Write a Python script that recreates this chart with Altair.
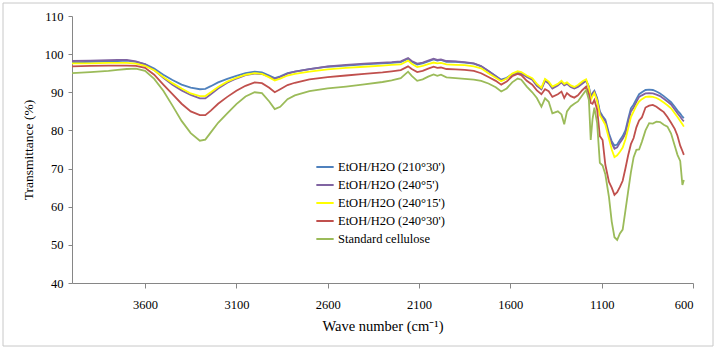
import altair as alt
import pandas as pd

wavenumber = [4000, 3900, 3800, 3750, 3700, 3650, 3600, 3550, 3500, 3450, 3400, 3350, 3300, 3270, 3240,
              3200, 3150, 3100, 3050, 3000, 2960, 2920, 2890, 2860, 2820, 2780, 2700, 2600, 2500, 2400,
              2300, 2250, 2200, 2160, 2140, 2110, 2080, 2050, 2020, 2000, 1980, 1950, 1900, 1850, 1800,
              1760, 1720, 1680, 1650, 1620, 1590, 1560, 1540, 1510, 1480, 1455, 1430, 1410, 1390, 1370,
              1340, 1320, 1305, 1290, 1270, 1250, 1230, 1205, 1185, 1170, 1160, 1150, 1140, 1125, 1110,
              1095, 1080, 1060, 1045, 1030, 1015, 1000, 985, 970, 955, 940, 925, 910, 895, 880,
              860, 840, 820, 800, 780, 760, 740, 720, 700, 685, 670, 658, 650]

blue = [97.8, 98.0, 98.1, 98.2, 98.3, 98.0, 97.4, 96.2, 94.6, 93.2, 92.0, 91.2, 90.8, 90.9, 91.6,
        92.6, 93.5, 94.3, 95.0, 95.4, 95.2, 94.4, 93.7, 94.2, 95.0, 95.4, 96.1, 96.7, 97.0, 97.3,
        97.6, 97.7, 97.9, 98.8, 98.0, 97.3, 97.6, 98.1, 98.6, 98.3, 98.5, 98.0, 98.0, 97.8, 97.5,
        96.8, 95.6, 94.3, 93.3, 93.8, 94.8, 95.2, 95.0, 94.2, 93.5, 92.0, 91.0, 93.3, 92.6, 91.3,
        92.0, 92.8, 92.0, 92.4, 91.6, 91.2, 91.6, 92.5, 93.1, 91.5, 88.8, 89.8, 90.4, 88.5, 85.0,
        83.8, 82.8, 79.2, 77.2, 76.0, 76.3, 77.5, 78.5, 80.0, 83.0, 85.8, 86.8, 88.2, 89.5, 90.0,
        90.6, 90.7, 90.6, 90.2, 89.7, 89.0, 88.2, 87.4, 86.2, 85.2, 84.4, 83.6, 83.2]

purple = [98.2, 98.3, 98.4, 98.5, 98.5, 98.1, 97.3, 95.8, 93.8, 92.0, 90.5, 89.3, 88.4, 88.4, 89.5,
          91.0, 92.5, 93.6, 94.5, 94.9, 94.8, 94.1, 93.5, 94.0, 94.9, 95.4, 96.1, 96.8, 97.2, 97.5,
          97.8, 97.9, 98.1, 99.0, 98.2, 97.5, 97.8, 98.3, 98.8, 98.5, 98.6, 98.2, 98.1, 97.9, 97.6,
          96.9, 95.6, 94.2, 93.1, 93.6, 94.6, 95.0, 94.9, 94.0, 93.3, 91.7, 90.8, 93.0, 92.3, 91.0,
          91.8, 92.6, 91.8, 92.2, 91.4, 91.0, 91.4, 92.3, 93.0, 91.3, 88.6, 89.6, 90.2, 88.2, 84.6,
          83.4, 82.4, 78.6, 76.6, 75.2, 75.6, 76.8, 77.8, 79.2, 82.2, 85.0, 86.0, 87.5, 88.8, 89.2,
          89.7, 89.8, 89.7, 89.4, 89.0, 88.3, 87.6, 86.8, 85.5, 84.5, 83.6, 82.8, 82.4]

yellow = [97.6, 97.6, 97.7, 97.7, 97.7, 97.5, 96.9, 95.8, 94.0, 92.4, 91.0, 89.7, 89.0, 89.0, 90.0,
          91.4, 92.8, 93.8, 94.6, 95.0, 94.8, 93.9, 93.1, 93.6, 94.4, 94.8, 95.4, 96.0, 96.4, 96.7,
          97.0, 97.2, 97.3, 98.3, 97.5, 96.6, 96.9, 97.4, 97.8, 97.6, 97.7, 97.3, 97.2, 97.1, 96.8,
          96.3, 95.0, 93.8, 92.9, 93.6, 94.9, 95.5, 95.3, 94.4, 93.7, 92.2, 91.2, 93.5, 92.8, 91.5,
          92.2, 93.0, 92.2, 92.6, 91.8, 91.4, 91.9, 92.9, 93.4, 91.2, 88.0, 89.0, 89.8, 87.8, 84.0,
          82.8, 81.5, 77.8, 75.0, 73.0, 73.5, 74.4, 75.5, 77.6, 80.5, 83.5, 85.0, 86.5, 87.6, 88.2,
          88.8, 88.9, 88.8, 88.5, 88.0, 87.3, 86.6, 85.8, 84.5, 83.5, 82.5, 81.6, 81.0]

red = [96.8, 96.9, 97.0, 97.0, 97.0, 96.9, 96.4, 94.6, 92.0, 89.5, 87.0, 85.0, 84.0, 84.0, 85.2,
       87.0, 88.8, 90.4, 91.7, 92.6, 92.4, 91.2, 90.0, 90.8, 91.9, 92.5, 93.4, 94.0, 94.4, 94.8,
       95.2, 95.5, 95.8, 96.8, 96.1, 95.3, 95.6, 96.2, 96.7, 96.4, 96.5, 96.1, 96.0, 95.9, 95.6,
       95.0, 94.0, 93.0, 92.0, 92.8, 94.2, 94.8, 94.5, 93.0, 92.0, 90.5, 89.5, 90.8, 90.3, 88.8,
       89.5, 90.2, 88.5, 89.8, 89.0, 88.6, 89.2, 90.6, 91.5, 89.5, 87.2, 87.0, 88.0, 85.5, 78.5,
       77.5, 71.0, 66.5, 65.0, 63.1, 63.8, 65.2, 66.8, 70.0, 73.5, 76.4, 78.0, 80.8, 82.6, 83.4,
       86.0, 86.5, 86.7, 86.2, 85.5, 84.8, 83.5, 82.0, 80.4, 78.6, 76.0, 74.6, 73.6]

green = [95.0, 95.3, 95.6, 95.9, 96.1, 96.2, 95.6, 93.5, 90.4, 86.5, 82.5, 79.3, 77.3, 77.6, 79.5,
         82.0, 84.5, 86.9, 88.9, 90.0, 89.8, 87.6, 85.6, 86.2, 88.2, 89.2, 90.3, 91.0, 91.5, 92.1,
         92.7, 93.1, 93.7, 95.4, 94.3, 93.0, 93.4, 94.1, 94.7, 94.3, 94.6, 93.9, 93.7, 93.5, 93.3,
         93.0, 92.3, 91.3, 90.2, 91.0, 92.6, 93.6, 93.3, 91.5, 90.0, 88.5, 86.2, 88.4, 87.5, 84.5,
         85.0, 84.2, 81.6, 85.0, 86.3, 87.0, 87.6, 89.3, 90.6, 88.0, 77.5, 83.0, 86.0, 82.0, 71.5,
         70.8, 68.5, 62.5, 56.1, 52.0, 51.3, 53.0, 54.0, 59.0, 64.0, 69.0, 73.0, 74.9, 75.0, 77.0,
         80.0, 81.9, 81.8, 82.3, 82.2, 81.5, 81.0, 79.2, 76.0, 73.6, 72.0, 65.7, 67.0]

names = ["EtOH/H2O (210°30')", "EtOH/H2O (240°5')", "EtOH/H2O (240°15')",
         "EtOH/H2O (240°30')", "Standard cellulose"]
colors = ["#4F81BD", "#8064A2", "#FFFF00", "#C0504D", "#9BBB59"]
series = [blue, purple, yellow, red, green]

x_ticks = [3600, 3100, 2600, 2100, 1600, 1100, 600]
y_ticks = [40, 50, 60, 70, 80, 90, 100, 110]

rows = []
for i, (name, vals) in enumerate(zip(names, series)):
    for w, v in zip(wavenumber, vals):
        rows.append({"wn": w, "T": v, "series": name, "k": i})
df = pd.DataFrame(rows)

FONT = "Liberation Serif"

lines = alt.Chart(df).mark_line(strokeWidth=1.8).encode(
    x=alt.X("wn:Q",
            scale=alt.Scale(domain=[600, 4000], reverse=True, nice=False, zero=False),
            axis=alt.Axis(values=x_ticks, title="Wave number (cm⁻¹)", grid=False,
                          tickSize=5, labelPadding=10, titlePadding=9, format="d",
                          titleFontSize=14.5)),
    y=alt.Y("T:Q",
            scale=alt.Scale(domain=[40, 110], nice=False, zero=False),
            axis=alt.Axis(values=y_ticks, title="Transmittance (%)", grid=False,
                          tickSize=4, labelPadding=5, titlePadding=9,
                          titleFontSize=13.5)),
    color=alt.Color("series:N",
                    scale=alt.Scale(domain=names, range=colors),
                    sort=names,
                    legend=alt.Legend(title=None, orient="none", legendX=243, legendY=141,
                                      symbolType="stroke", symbolSize=300, symbolStrokeWidth=2,
                                      labelFont=FONT, labelFontSize=12.5, labelColor="#000000",
                                      labelOffset=3, rowPadding=1)),
    detail="k:N",
)

frame = alt.Chart(pd.DataFrame({"a": [0]})).mark_rect(
    fillOpacity=0, stroke="#C8C8C8", strokeWidth=1
).encode(
    x=alt.value(-69), x2=alt.value(641), y=alt.value(-13), y2=alt.value(330)
)

chart = alt.layer(frame, lines).properties(
    width=621, height=267,
    autosize=alt.AutoSizeParams(type="none"),
    padding={"left": 72, "top": 16, "right": 23, "bottom": 67},
    background="white",
).configure_view(stroke=None).configure_axis(
    domainColor="#868686", tickColor="#868686",
    labelFont=FONT, labelFontSize=12.5, labelColor="#000000",
    titleFont=FONT, titleFontWeight="normal", titleColor="#000000",
)

chart.save("out.html", embed_options={"renderer": "svg", "actions": False})
